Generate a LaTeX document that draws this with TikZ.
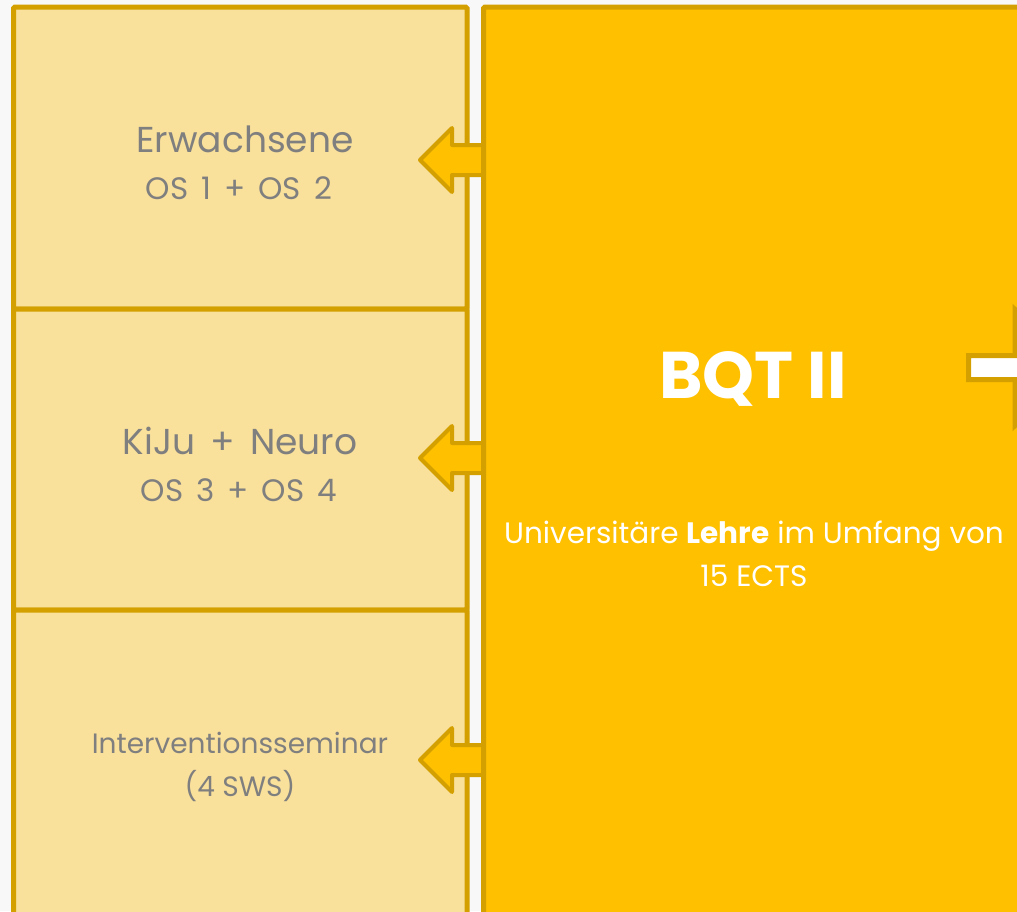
\documentclass[tikz,border=0pt]{standalone}
\usepackage{fontspec}
\setmainfont{Poppins}
\definecolor{bqtgold}{HTML}{FFC000}
\definecolor{bqtedge}{HTML}{D4A000}
\definecolor{bqtpale}{HTML}{F9E09B}
\definecolor{bqtgrey}{HTML}{7F7F7F}
\definecolor{bqtbg}{HTML}{F8F8F8}
\newcommand{\widespaces}{\spaceskip=0.42em\relax}

\begin{document}
\begin{tikzpicture}[x=1pt,y=-1pt,
		modbox/.style={draw=bqtedge, fill=bqtpale, line width=5pt, anchor=north west,
				outer sep=0pt, rounded corners=1.5pt, minimum width=453.5pt},
		headtxt/.style={text=bqtgrey, anchor=base, inner sep=0pt,
				font=\fontsize{36}{40}\selectfont\widespaces},
		subtxt/.style={text=bqtgrey, anchor=base, inner sep=0pt,
				font=\fontsize{31}{34}\selectfont\widespaces},
		smalltxt/.style={text=bqtgrey, anchor=base, inner sep=0pt,
				font=\fontsize{28}{32}\selectfont},
		leftarrow/.style={draw=bqtedge, fill=bqtgold, line width=4pt, line join=round}]

		% page and clipping
		\useasboundingbox (0,0) rectangle (1017,911);
		\fill[bqtbg] (0,0) rectangle (1017,911);
		\clip (0,0) rectangle (1017,911);

		% module boxes on the left
		\node[modbox, minimum height=302pt] (erw) at (13.5,7) {};
		\node[modbox, minimum height=301pt] (kiju) at (13.5,309) {};
		\node[modbox, minimum height=310pt] (iv) at (13.5,610) {};

		% module texts
		\node[headtxt] (erw-a) at (245,152) {Erwachsene};
		\node[subtxt] (erw-b) at (239,199) {OS 1 + OS 2};
		\node[headtxt] (kiju-a) at (240,454) {KiJu + Neuro};
		\node[subtxt] (kiju-b) at (239,501) {OS 3 + OS 4};
		\node[smalltxt] (iv-a) at (240,753) {Interventionsseminar};
		\node[smalltxt] (iv-b) at (240,796) {(4 SWS)};

		% arrows pointing to the modules
		\foreach \m/\y in {erw/160, kiju/458, iv/760} {
				\coordinate (tip-\m) at (420,\y);
				\draw[leftarrow] (tip-\m) -- ++(32,-32) -- ++(0,17) -- ++(34,0)
				-- ++(0,30) -- ++(-34,0) -- ++(0,17) -- cycle;
			}

		% BQT II box
		\node[draw=bqtedge, fill=bqtgold, line width=5pt, anchor=north west, outer sep=0pt,
			rounded corners=1.5pt, minimum width=560pt, minimum height=930pt] (bqt) at (483.5,7) {};
		\node[text=white, anchor=base, inner sep=0pt,
			font=\fontsize{66}{70}\selectfont\bfseries] (title) at (753,398) {BQT II};
		\node[text=white, anchor=base, inner sep=0pt,
			font=\fontsize{29.5}{34}\selectfont] (lehre-a) at (754,543)
		{Universitäre \textbf{Lehre} im Umfang von};
		\node[text=white, anchor=base, inner sep=0pt,
			font=\fontsize{29.5}{34}\selectfont] (lehre-b) at (754,586) {15 ECTS};

		% arrow leaving to the right
		\draw[draw=bqtedge, fill=white, line width=5pt] (968.5,355.5) -- (1015,355.5) -- (1015,309.5)
		-- (1075,367.5) -- (1015,425.5) -- (1015,379.5) -- (968.5,379.5) -- cycle;
	\end{tikzpicture}
\end{document}
